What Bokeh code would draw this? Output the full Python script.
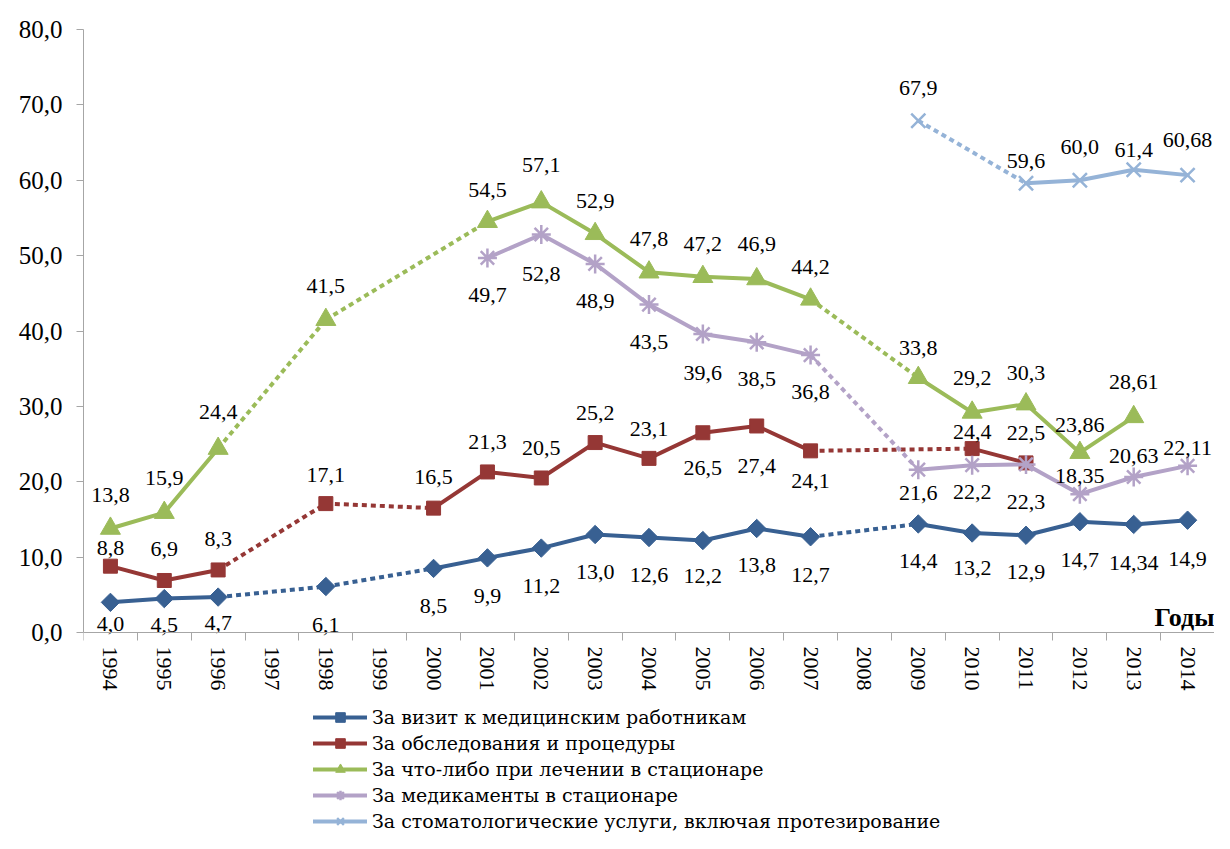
import math
from bokeh.plotting import figure
from bokeh.models import (Range1d, FixedTicker, CustomJSTickFormatter, Legend,
                          LegendItem, Label, ColumnDataSource)
from bokeh.core.properties import value
from bokeh.embed import file_html
from bokeh.resources import INLINE

# ---------------- data ----------------
categories = ["1994", "1995", "1996", "1997", "1998", "1999", "2000", "2001",
              "2002", "2003", "2004", "2005", "2006", "2007", "2008", "2009",
              "2010", "2011", "2012", "2013", "2014"]

visit_years = [1994, 1995, 1996, 1998, 2000, 2001, 2002, 2003, 2004, 2005,
               2006, 2007, 2009, 2010, 2011, 2012, 2013, 2014]
visit_values = [4.0, 4.5, 4.7, 6.1, 8.5, 9.9, 11.2, 13.0, 12.6, 12.2,
                13.8, 12.7, 14.4, 13.2, 12.9, 14.7, 14.34, 14.9]

exam_years = [1994, 1995, 1996, 1998, 2000, 2001, 2002, 2003, 2004, 2005,
              2006, 2007, 2010, 2011]
exam_values = [8.8, 6.9, 8.3, 17.1, 16.5, 21.3, 20.5, 25.2, 23.1, 26.5,
               27.4, 24.1, 24.4, 22.5]

hosp_years = [1994, 1995, 1996, 1998, 2001, 2002, 2003, 2004, 2005, 2006,
              2007, 2009, 2010, 2011, 2012, 2013]
hosp_values = [13.8, 15.9, 24.4, 41.5, 54.5, 57.1, 52.9, 47.8, 47.2, 46.9,
               44.2, 33.8, 29.2, 30.3, 23.86, 28.61]

meds_years = [2001, 2002, 2003, 2004, 2005, 2006, 2007, 2009, 2010, 2011,
              2012, 2013, 2014]
meds_values = [49.7, 52.8, 48.9, 43.5, 39.6, 38.5, 36.8, 21.6, 22.2, 22.3,
               18.35, 20.63, 22.11]

dent_years = [2009, 2011, 2012, 2013, 2014]
dent_values = [67.9, 59.6, 60.0, 61.4, 60.68]

series_names = [
    "За визит к медицинским работникам",
    "За обследования и процедуры",
    "За что-либо при лечении в стационаре",
    "За медикаменты в стационаре",
    "За стоматологические услуги, включая протезирование",
]

y_ticks = [0, 10, 20, 30, 40, 50, 60, 70, 80]
y_max = 80

# ---------------- styling / label placement (screen px, + = down) ----------------
visit_lbl_dy = [22, 26, 26, 38, 38, 38, 38, 37, 37, 35, 37, 38, 37, 35, 37, 38, 39, 39]
exam_lbl_dy = [-18, -31, -31, -29, -31, -30, -30, -30, -29, 35, 40, 30, -17, -30]
hosp_lbl_dy = [-33, -35, -37, -34, -32, -37, -33, -33, -33, -35, -32, -30, -34, -31, -28, -35]
meds_lbl_dy = [37, 39, 37, 37, 39, 37, 37, 23, 27, 38, -18, -21, -18]
dent_lbl_dy = [-33, -22, -33, -20, -35]

colors = ["#386092", "#953735", "#9BBB59", "#B3A2C7", "#95B3D7"]
markers = ["square", "square", "triangle", "asterisk", "x"]
marker_sizes = [13, 14, 20, 19, 20]
marker_angles = [math.pi / 4, 0, 0, 0, 0]
marker_line_widths = [1, 1, 1, 2.5, 2.5]

FONT = "Liberation Serif"
LEGEND_FONT = "DejaVu Serif"

W, H = 1214, 833
TOP, LEFT = 29, 83          # frame top / left on the canvas
ZERO_Y = 632                # canvas y of the value 0 (x axis position)
y_start = -y_max * (H - ZERO_Y) / (ZERO_Y - TOP)   # frame extends below the axis

p = figure(width=W, height=H, output_backend="svg", toolbar_location=None,
           title=None, x_range=Range1d(0, len(categories)),
           y_range=Range1d(y_start, y_max),
           min_border_left=LEFT, min_border_right=0, min_border_top=TOP,
           min_border_bottom=0)
p.outline_line_color = None
p.xgrid.grid_line_color = None
p.ygrid.grid_line_color = None
p.background_fill_color = "white"
p.border_fill_color = "white"

# y axis
ya = p.yaxis[0]
ya.bounds = (0, y_max)
ya.ticker = FixedTicker(ticks=y_ticks)
ya.formatter = CustomJSTickFormatter(code="return tick.toFixed(1).replace('.', ',');")
ya.axis_line_color = "#A6A6A6"
ya.major_tick_line_color = "#A6A6A6"
ya.major_tick_out = 7
ya.major_tick_in = 0
ya.minor_tick_line_color = None
ya.major_label_standoff = 14
ya.major_label_text_font = FONT
ya.major_label_text_font_size = "25px"
ya.major_label_text_color = "#000000"

# x axis fixed at value 0: labels at category centres, ticks at category boundaries
xa = p.xaxis[0]
xa.fixed_location = 0
xa.ticker = FixedTicker(ticks=[i + 0.5 for i in range(len(categories))],
                        minor_ticks=list(range(len(categories) + 1)))
xa.formatter = CustomJSTickFormatter(args=dict(cats=categories),
                                     code="return cats[Math.floor(tick)];")
xa.axis_line_color = "#A6A6A6"
xa.major_tick_line_color = None
xa.major_tick_out = 0
xa.major_tick_in = 0
xa.minor_tick_line_color = "#A6A6A6"
xa.minor_tick_out = 8
xa.minor_tick_in = 0
xa.major_label_orientation = "vertical"
xa.major_label_standoff = 6
xa.major_label_text_font = FONT
xa.major_label_text_font_size = "22px"
xa.major_label_text_color = "#000000"


def fmt(v):
    s = f"{v:.1f}" if abs(round(v, 1) - v) < 1e-9 else f"{v:.2f}"
    return s.replace(".", ",")


all_series = [
    (visit_years, visit_values, visit_lbl_dy),
    (exam_years, exam_values, exam_lbl_dy),
    (hosp_years, hosp_values, hosp_lbl_dy),
    (meds_years, meds_values, meds_lbl_dy),
    (dent_years, dent_values, dent_lbl_dy),
]

legend_items = []
label_sources = []
for si, (years, vals, dys) in enumerate(all_series):
    idx = [categories.index(str(y)) for y in years]
    xs = [i + 0.5 for i in idx]
    runs, cur = [], [0]
    for k in range(1, len(idx)):
        if idx[k] - idx[k - 1] == 1:
            cur.append(k)
        else:
            runs.append(cur)
            cur = [k]
    runs.append(cur)
    solid_x = [[xs[k] for k in r] for r in runs if len(r) > 1]
    solid_y = [[vals[k] for k in r] for r in runs if len(r) > 1]
    gaps = [k for k in range(1, len(idx)) if idx[k] - idx[k - 1] > 1]
    dot_x = [[xs[k - 1], xs[k]] for k in gaps]
    dot_y = [[vals[k - 1], vals[k]] for k in gaps]

    c = colors[si]
    if dot_x:
        p.multi_line(dot_x, dot_y, line_color=c, line_width=4, line_dash="5 4",
                     line_cap="butt")
    solid = p.multi_line(solid_x, solid_y, line_color=c, line_width=4,
                         line_join="round", line_cap="round")
    sc = p.scatter(xs, vals, marker=markers[si], size=marker_sizes[si],
                   angle=marker_angles[si], fill_color=c, line_color=c,
                   line_width=marker_line_widths[si])
    legend_items.append(LegendItem(label=series_names[si], renderers=[solid, sc]))
    label_sources.append(ColumnDataSource(dict(x=xs, y=vals,
                                               t=[fmt(v) for v in vals], dy=dys)))

for src in label_sources:
    p.text(x="x", y="y", text="t", y_offset="dy", source=src,
           text_font=value(FONT), text_font_size="22px", text_color="#000000",
           text_align="center", text_baseline="middle")

p.add_layout(Label(x=len(categories), y=0, text="Годы", text_align="right",
                   text_baseline="bottom", y_offset=1, text_font=FONT,
                   text_font_size="26px", text_font_style="bold",
                   text_color="#000000"))

legend = Legend(items=legend_items, location=(230, 0), orientation="vertical",
                glyph_width=54, glyph_height=24, label_height=24,
                label_standoff=5, spacing=2, padding=0, margin=0,
                border_line_color=None, background_fill_alpha=0,
                label_text_font=LEGEND_FONT, label_text_font_size="19px",
                label_text_color="#000000")
p.add_layout(legend)

open("out.html", "w").write(file_html(p, INLINE))
